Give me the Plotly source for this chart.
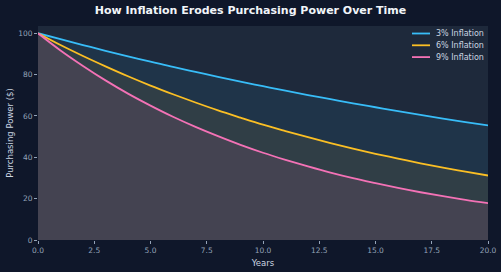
import plotly.graph_objects as go

years = list(range(0, 21))
infl_3 = [100, 97.1, 94.3, 91.5, 88.8, 86.3, 83.7, 81.3, 78.9, 76.6, 74.4,
          72.2, 70.1, 68.1, 66.1, 64.2, 62.3, 60.5, 58.7, 57.0, 55.4]
infl_6 = [100, 94.3, 89.0, 84.0, 79.2, 74.7, 70.5, 66.5, 62.7, 59.2, 55.8,
          52.7, 49.7, 46.9, 44.2, 41.7, 39.4, 37.1, 35.0, 33.1, 31.2]
infl_9 = [100, 91.7, 84.2, 77.2, 70.8, 65.0, 59.6, 54.7, 50.2, 46.0, 42.2,
          38.8, 35.6, 32.6, 29.9, 27.5, 25.2, 23.1, 21.2, 19.4, 17.8]
names = ["3% Inflation", "6% Inflation", "9% Inflation"]
x_ticks = [0, 2.5, 5, 7.5, 10, 12.5, 15, 17.5, 20]
y_ticks = [0, 20, 40, 60, 80, 100]

colors = ["#38bdf8", "#fbbf24", "#f472b6"]
fills = ["rgba(56,189,248,0.08)", "rgba(251,191,36,0.08)", "rgba(244,114,182,0.10)"]

# plot area in pixels: x 38..488, y 26..240
W, H = 501, 272
L, R, T, B = 38, 13, 26, 32
pw, ph = W - L - R, H - T - B

fig = go.Figure()
for ys, name, c, f in zip([infl_3, infl_6, infl_9], names, colors, fills):
    fig.add_trace(go.Scatter(x=years, y=ys, name=name, mode="lines",
                             line=dict(color=c, width=1.8, shape="spline"),
                             fill="tozeroy", fillcolor=f, showlegend=False))

# manual compact legend
for i, (name, c) in enumerate(zip(names, colors)):
    py = 33.5 + 11.8 * i
    yp = (H - B - py) / ph
    fig.add_shape(type="line", xref="paper", yref="paper",
                  x0=(412 - L) / pw, x1=(430 - L) / pw, y0=yp, y1=yp,
                  line=dict(color=c, width=1.8))
    fig.add_annotation(xref="paper", yref="paper", x=(434 - L) / pw, y=yp,
                       xanchor="left", yanchor="middle", text=name, showarrow=False,
                       font=dict(size=8, color="#cbd5e1"))

fig.update_layout(
    width=W, height=H,
    margin=dict(l=L, r=R, t=T, b=B),
    paper_bgcolor="#0f172a", plot_bgcolor="#1e293b",
    font=dict(family="DejaVu Sans", color="#94a3b8", size=8),
    title=dict(text="<b>How Inflation Erodes Purchasing Power Over Time</b>",
               x=0.5, xanchor="center", y=0.962, yanchor="middle",
               font=dict(size=11, color="#f1f5f9")),
    showlegend=False,
)
fig.update_xaxes(range=[0, 20], tickvals=x_ticks, tickformat=".1f", automargin=False,
                 showgrid=False, zeroline=False, ticks="outside", ticklen=3,
                 tickcolor="#94a3b8", tickfont=dict(size=7.5, color="#94a3b8"),
                 title=dict(text="Years", font=dict(size=8.5, color="#cbd5e1"), standoff=6))
fig.update_yaxes(range=[0, 103.5], tickvals=y_ticks, showgrid=False, zeroline=False,
                 automargin=False, ticks="outside", ticklen=3, tickcolor="#94a3b8",
                 tickfont=dict(size=7.5, color="#94a3b8"),
                 title=dict(text="Purchasing Power ($)", font=dict(size=8.5, color="#cbd5e1"), standoff=3))

fig.write_html("out.html")
